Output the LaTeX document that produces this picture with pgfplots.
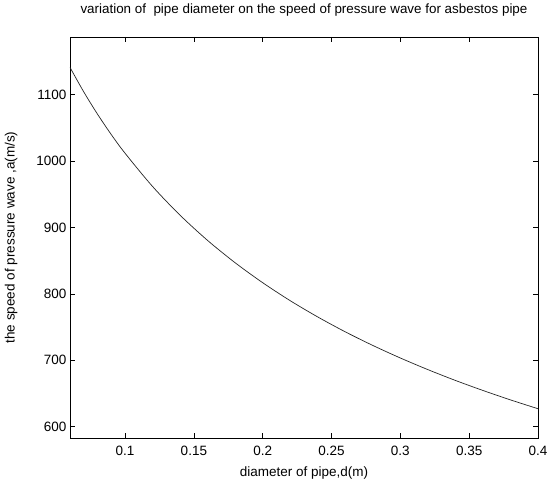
\documentclass[border=0pt]{standalone}
\usepackage{pgfplots}
\pgfplotsset{compat=1.18}
\usepackage{fontspec}
\setmainfont{Liberation Sans}
\begin{document}
\begin{tikzpicture}
\begin{axis}[
  scale only axis,
  width=468pt, height=401pt,
  xmin=0.06, xmax=0.4,
  ymin=583, ymax=1187,
  xtick={0.1,0.15,...,0.41},
  ytick={600,700,...,1100},
  xticklabels={0.1,0.15,0.2,0.25,0.3,0.35,0.4},
  tick align=inside,
  tick pos=both,
  major tick length=5pt,
  tick style={black, line width=0.6pt},
  axis line style={black, line width=0.9pt},
  /pgf/number format/assume math mode=true,
  ticklabel style={font=\fontsize{13.5}{15}\selectfont},
  xticklabel style={yshift=-5pt},
  yticklabel style={/pgf/number format/1000 sep={}},
  title={variation of\ \ pipe diameter on the speed of pressure wave for asbestos pipe},
  title style={font=\fontsize{13.4}{15}\selectfont, at={(axis description cs:0.5,1)}, anchor=center, yshift=21pt},
  xlabel={diameter of pipe,d(m)},
  ylabel={the speed of pressure wave ,a(m/s)},
  label style={font=\fontsize{13.5}{15}\selectfont},
  xlabel style={at={(axis description cs:0.5,0)}, anchor=center, yshift=-35pt},
  ylabel style={at={(axis description cs:-0.126,0.5)}, anchor=center},
]
\addplot[black!85, line width=0.7pt, smooth] coordinates {
(0.06,1141.2) (0.07,1104.3) (0.08,1070.7) (0.09,1040.0) (0.10,1011.9)
(0.12,961.8) (0.14,918.5) (0.16,880.5) (0.18,846.9) (0.20,816.9)
(0.22,789.8) (0.24,765.3) (0.26,742.9) (0.28,722.4) (0.30,703.5)
(0.32,686.0) (0.34,669.7) (0.36,654.6) (0.38,640.4) (0.40,627.1)
};
\end{axis}
\path ([xshift=-70pt,yshift=-41pt]current axis.south west) rectangle ([xshift=13pt,yshift=37pt]current axis.north east);
\end{tikzpicture}
\end{document}
